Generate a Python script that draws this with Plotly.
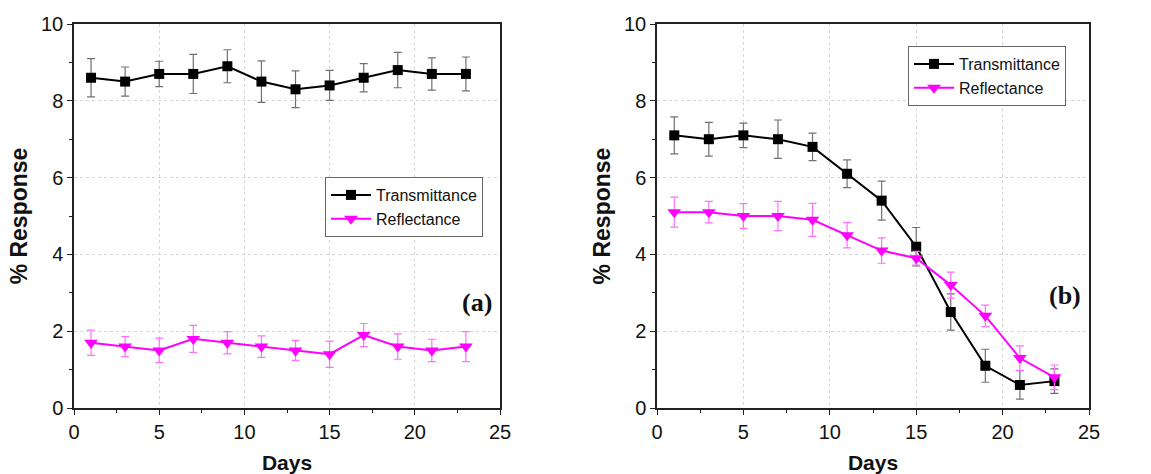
import plotly.graph_objects as go
from plotly.subplots import make_subplots

days = [1, 3, 5, 7, 9, 11, 13, 15, 17, 19, 21, 23]

# Panel (a)
a_trans = [8.6, 8.5, 8.7, 8.7, 8.9, 8.5, 8.3, 8.4, 8.6, 8.8, 8.7, 8.7]
a_trans_err = [0.50, 0.38, 0.33, 0.51, 0.43, 0.54, 0.48, 0.39, 0.37, 0.46, 0.42, 0.44]
a_refl = [1.7, 1.6, 1.5, 1.8, 1.7, 1.6, 1.5, 1.4, 1.9, 1.6, 1.5, 1.6]
a_refl_err = [0.33, 0.26, 0.32, 0.35, 0.29, 0.28, 0.26, 0.34, 0.30, 0.33, 0.29, 0.39]

# Panel (b)
b_trans = [7.1, 7.0, 7.1, 7.0, 6.8, 6.1, 5.4, 4.2, 2.5, 1.1, 0.6, 0.7]
b_trans_err = [0.48, 0.44, 0.32, 0.50, 0.36, 0.36, 0.51, 0.50, 0.47, 0.43, 0.37, 0.32]
b_refl = [5.1, 5.1, 5.0, 5.0, 4.9, 4.5, 4.1, 3.9, 3.2, 2.4, 1.3, 0.8]
b_refl_err = [0.39, 0.28, 0.32, 0.38, 0.43, 0.33, 0.33, 0.18, 0.34, 0.28, 0.32, 0.32]

x_ticks = [0, 5, 10, 15, 20, 25]
y_ticks = [0, 2, 4, 6, 8, 10]

BLACK = "#000000"
MAGENTA = "#ff00ff"

fig = make_subplots(rows=1, cols=2)

def add_panel(col, trans, trans_err, refl, refl_err, legend):
    fig.add_trace(go.Scatter(
        x=days, y=trans, name="Transmittance", mode="lines+markers",
        line=dict(color=BLACK, width=2),
        marker=dict(symbol="square", size=10, color=BLACK),
        error_y=dict(type="data", array=trans_err, color="#707070", thickness=1.2, width=4),
        legend=legend,
    ), row=1, col=col)
    fig.add_trace(go.Scatter(
        x=days, y=refl, name="Reflectance", mode="lines+markers",
        line=dict(color=MAGENTA, width=2),
        marker=dict(symbol="triangle-down", size=12, color=MAGENTA),
        error_y=dict(type="data", array=refl_err, color="#ff70ff", thickness=1.2, width=4),
        legend=legend,
    ), row=1, col=col)

add_panel(1, a_trans, a_trans_err, a_refl, a_refl_err, "legend")
add_panel(2, b_trans, b_trans_err, b_refl, b_refl_err, "legend2")

W, H = 1151, 474
tick_font = dict(family="Liberation Sans, Arial", size=20, color="#111111")

axis_common = dict(
    showline=True, linecolor="#222222", linewidth=1.5, mirror=True,
    ticks="outside", ticklen=5, tickwidth=1.3, tickcolor="#222222",
    showgrid=True, gridcolor="#d6d6d6", griddash="dot", gridwidth=1,
    zeroline=False, tickfont=tick_font, automargin=False,
)

xdoms = [[74 / W, 500 / W], [657 / W, 1089 / W]]
ydom = [(H - 408) / H, (H - 24) / H]

for i, xd in enumerate(xdoms, start=1):
    fig.update_xaxes(
        row=1, col=i, domain=xd, range=[0, 25], tickvals=x_ticks,
        minor=dict(ticks="outside", ticklen=3, tickwidth=1.2, tickcolor="#222222", dtick=2.5, tick0=0, showgrid=False),
        title=dict(text="<b>Days</b>",
                   font=dict(family="Liberation Sans, Arial", size=21, color="#111111"), standoff=14),
        **axis_common,
    )
    fig.update_yaxes(
        row=1, col=i, domain=ydom, range=[0, 10], tickvals=y_ticks,
        minor=dict(ticks="outside", ticklen=3, tickwidth=1.2, tickcolor="#222222", dtick=1, tick0=0, showgrid=False),
        title=dict(text="<b>% Response</b>",
                   font=dict(family="Liberation Sans, Arial", size=23, color="#111111"), standoff=7),
        **axis_common,
    )

legend_style = dict(
    bgcolor="rgba(255,255,255,1)", bordercolor="#666666", borderwidth=1,
    font=dict(family="Liberation Sans, Arial", size=16, color="#111111"),
    xanchor="left", yanchor="top", tracegroupgap=0, itemwidth=40,
)

fig.update_layout(
    width=W, height=H,
    margin=dict(l=0, r=0, t=0, b=0),
    paper_bgcolor="white", plot_bgcolor="white",
    legend=dict(x=325 / W, y=1 - 177 / H, **legend_style),
    legend2=dict(x=908 / W, y=1 - 46 / H, **legend_style),
    annotations=[
        dict(text="<b>(a)</b>", xref="x domain", yref="y domain", x=0.985, y=(407 - 301) / 384,
             xanchor="right", yanchor="middle", showarrow=False,
             font=dict(family="Liberation Serif, Times New Roman", size=26, color="#111111")),
        dict(text="<b>(b)</b>", xref="x2 domain", yref="y2 domain", x=0.985, y=(409 - 296) / 384,
             xanchor="right", yanchor="middle", showarrow=False,
             font=dict(family="Liberation Serif, Times New Roman", size=26, color="#111111")),
    ],
)

fig.write_html("out.html")
